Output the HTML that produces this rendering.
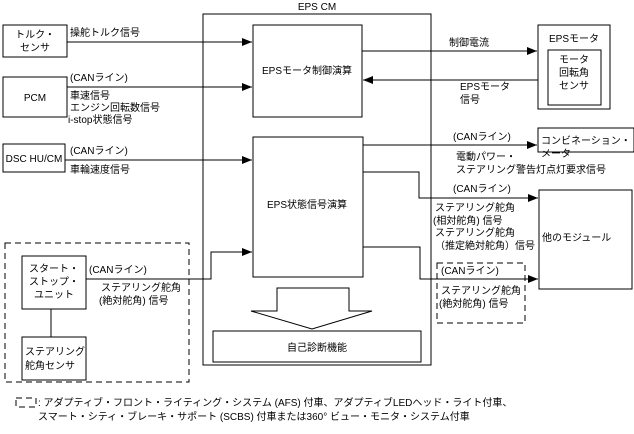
<!DOCTYPE html>
<html><head><meta charset="utf-8"><style>
html,body{margin:0;padding:0;background:#fff}
svg text{font-family:"Liberation Sans","Noto Sans CJK JP",sans-serif;font-size:10px;fill:#000}
</style></head><body>
<svg width="634" height="429" viewBox="0 0 634 429" xmlns="http://www.w3.org/2000/svg">
<defs><marker id="a" markerWidth="10" markerHeight="8" refX="10" refY="4" orient="auto" markerUnits="userSpaceOnUse"><path d="M0,0L10,4L0,8z" fill="#000"/></marker></defs>
<g fill="none" stroke="#000" stroke-width="1">
<rect x="203" y="14" width="228" height="351"/>
<rect x="253" y="25" width="109" height="92"/>
<rect x="253" y="137" width="110" height="140"/>
<rect x="213" y="331" width="208" height="31"/>
<path d="M277,288H349V311H372L312,329L251,311H277Z"/>
<rect x="3" y="25" width="64" height="32"/>
<rect x="3" y="77" width="64" height="40"/>
<rect x="3" y="144" width="62" height="28"/>
<rect x="538" y="25" width="72" height="84"/>
<rect x="548" y="50" width="53" height="55"/>
<rect x="538" y="128" width="96" height="24"/>
<rect x="539" y="190" width="93" height="99"/>
<rect x="22" y="256" width="64" height="53"/>
<rect x="22" y="337" width="64" height="43"/>
<line x1="51" y1="309" x2="51" y2="337"/>
<g stroke-dasharray="6,4">
<rect x="5" y="243" width="184" height="139"/>
<rect x="437" y="263" width="88" height="60"/>
<rect x="16" y="398" width="20" height="9"/>
</g>
<line x1="67" y1="42" x2="252" y2="42" marker-end="url(#a)"/>
<line x1="67" y1="87" x2="252" y2="87" marker-end="url(#a)"/>
<line x1="65" y1="160" x2="252" y2="160" marker-end="url(#a)"/>
<path d="M86,279H211V252H252" marker-end="url(#a)"/>
<line x1="362" y1="51" x2="537" y2="51" marker-end="url(#a)"/>
<line x1="538" y1="80" x2="363" y2="80" marker-end="url(#a)"/>
<line x1="363" y1="145" x2="537" y2="145" marker-end="url(#a)"/>
<path d="M363,172H419V198H538" marker-end="url(#a)"/>
<path d="M363,247H420V279H538" marker-end="url(#a)"/>
</g>
<rect x="14" y="396" width="24" height="13" fill="#fff" opacity="0"/>
<text x="317" y="10" text-anchor="middle">EPS CM</text>
<text x="307" y="74" text-anchor="middle">EPSモータ制御演算</text>
<text x="307" y="208" text-anchor="middle">EPS状態信号演算</text>
<text x="317" y="351" text-anchor="middle">自己診断機能</text>
<text x="35" y="38" text-anchor="middle">トルク・</text>
<text x="35" y="51" text-anchor="middle">センサ</text>
<text x="35" y="101" text-anchor="middle">PCM</text>
<text x="34" y="162" text-anchor="middle">DSC HU/CM</text>
<text x="70" y="36">操舵トルク信号</text>
<text x="70" y="81">(CANライン)</text>
<text x="70" y="99">車速信号</text>
<text x="70" y="111">エンジン回転数信号</text>
<text x="68" y="123">i-stop状態信号</text>
<text x="70" y="154">(CANライン)</text>
<text x="70" y="173">車輪速度信号</text>
<text x="469" y="46" text-anchor="middle">制御電流</text>
<text x="460" y="90">EPSモータ</text>
<text x="460" y="103">信号</text>
<text x="574" y="42" text-anchor="middle">EPSモータ</text>
<text x="574" y="63" text-anchor="middle">モータ</text>
<text x="574" y="76" text-anchor="middle">回転角</text>
<text x="574" y="89" text-anchor="middle">センサ</text>
<text x="453" y="140">(CANライン)</text>
<text x="541" y="144">コンビネーション・</text>
<text x="541" y="157">メータ</text>
<text x="456" y="160">電動パワー・</text>
<text x="456" y="173">ステアリング警告灯点灯要求信号</text>
<text x="453" y="192">(CANライン)</text>
<text x="435" y="211">ステアリング舵角</text>
<text x="433" y="224">(相対舵角) 信号</text>
<text x="435" y="236">ステアリング舵角</text>
<text x="435" y="249">（推定絶対舵角）信号</text>
<text x="542" y="241">他のモジュール</text>
<text x="441" y="274">(CANライン)</text>
<text x="441" y="294">ステアリング舵角</text>
<text x="439" y="307">(絶対舵角) 信号</text>
<text x="54" y="272" text-anchor="middle">スタート・</text>
<text x="54" y="285" text-anchor="middle">ストップ・</text>
<text x="54" y="298" text-anchor="middle">ユニット</text>
<text x="89" y="273">(CANライン)</text>
<text x="101" y="291">ステアリング舵角</text>
<text x="99" y="304">(絶対舵角) 信号</text>
<text x="25" y="355">ステアリング</text>
<text x="25" y="369">舵角センサ</text>
<text x="38" y="406">: アダプティブ・フロント・ライティング・システム (AFS) 付車、アダプティブLEDヘッド・ライト付車、</text>
<text x="38" y="420">スマート・シティ・ブレーキ・サポート (SCBS) 付車または360° ビュー・モニタ・システム付車</text>
</svg>
</body></html>
